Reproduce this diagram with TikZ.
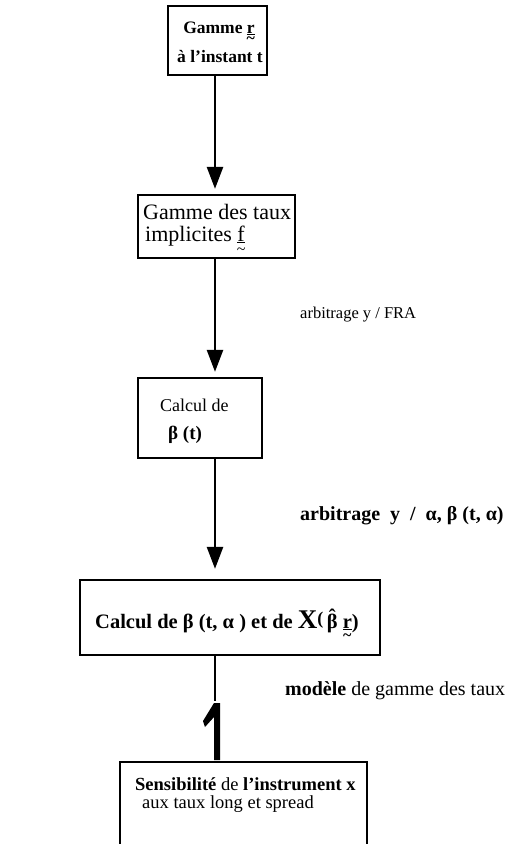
\documentclass[tikz,border=0pt]{standalone}
\usepackage{fontspec}
\setmainfont{Liberation Serif}
\usetikzlibrary{arrows.meta}
\newcommand{\ut}[1]{\ooalign{\underline{#1}\cr\hidewidth\smash{\raisebox{-0.6em}{\fontsize{16}{16}\selectfont\char"7E}}\hidewidth\cr}}
\newcommand{\bhat}{\ooalign{β\cr\hidewidth\raisebox{0.2em}{ˆ}\hidewidth\cr}}
\begin{document}
\begin{tikzpicture}[x=1pt,y=-1pt,
  box/.style={draw, line width=2.3pt, inner sep=0pt},
  arr/.style={line width=2.6pt, -{Triangle[width=16pt,length=22pt]}},
  txt/.style={anchor=base west, inner sep=0pt, font=\fontsize{22}{24}\selectfont},
  btxt/.style={anchor=base west, inner sep=0pt, font=\bfseries\fontsize{17.5}{20}\selectfont}]
\useasboundingbox (0,0) rectangle (526,844);
\coordinate (ax) at (215,0);
% boxes
\node[box, minimum width=99pt, minimum height=69pt] (b1) at (217.5,40.5) {};
\node[box, minimum width=157pt, minimum height=63pt] (b2) at (216.5,226.5) {};
\node[box, minimum width=124pt, minimum height=80pt] (b3) at (200,418) {};
\node[box, minimum width=300pt, minimum height=75pt] (b4) at (230,617.5) {};
\node[box, minimum width=247pt, minimum height=108pt] (b5) at (243.5,816) {};
% texts
\node[btxt, anchor=base] (t1a) at (219,33) {Gamme \ut{r}};
\node[btxt, anchor=base] (t1b) at (220,62) {à l'instant t};
\node[txt] (t2a) at (143,219) {Gamme des taux};
\node[txt] (t2b) at (145,241) {implicites \ut{f}};
\node[txt, font=\fontsize{18}{20}\selectfont] (t3a) at (160,411) {Calcul de};
\node[btxt, font=\bfseries\fontsize{19}{22}\selectfont] (t3b) at (168,439) {β (t)};
\node[txt, font=\fontsize{16.5}{20}\selectfont] (l1) at (300,318) {arbitrage y / FRA};
\node[btxt, font=\bfseries\fontsize{20}{22}\selectfont] (l2) at (300,520) {arbitrage\ \ y\ \ /\ \ α,\ β (t,\ α)};
\node[btxt, font=\bfseries\fontsize{20.5}{22}\selectfont] (t4) at (95,628) {Calcul de β (t, α ) et de {\fontsize{27}{27}\selectfont X}{\fontsize{18}{18}\selectfont\raisebox{4pt}{(}}\,\bhat\ \ut{r})};
\node[txt, font=\fontsize{20}{24}\selectfont] (l3) at (285,695) {\textbf{modèle} de gamme des taux};
\node[txt, font=\fontsize{18.5}{22}\selectfont] (t5a) at (135,790) {\textbf{Sensibilité} de \textbf{l'instrument x}};
\node[txt, font=\fontsize{18.5}{22}\selectfont] (t5b) at (142,808) {aux taux long et spread};
% connectors
\draw[arr, shorten >=5pt] (b1.south -| ax) -- (b2.north -| ax);
\draw[arr, shorten >=5pt] (b2.south -| ax) -- (b3.north -| ax);
\draw[arr, shorten >=10pt] (b3.south -| ax) -- (b4.north -| ax);
\coordinate (k0) at (215,701);
\draw[line width=2pt] (b4.south -| ax) -- (k0);
\fill (220,703) -- (220,760) -- (214,760) -- (214,717) -- (205,727) -- (203,721) -- (214,703) -- cycle;
\end{tikzpicture}
\end{document}
